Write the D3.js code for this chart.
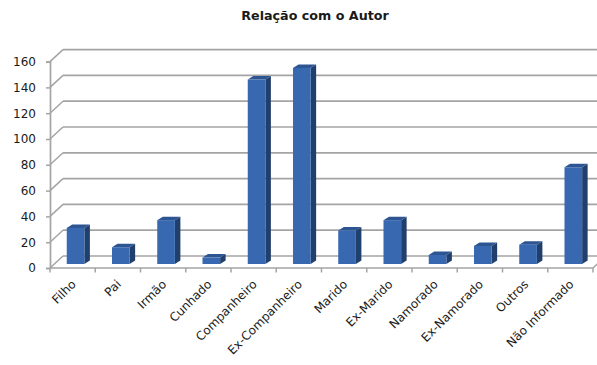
<!DOCTYPE html>
<html>
<head>
<meta charset="utf-8">
<script src="https://cdn.jsdelivr.net/npm/d3@7"></script>
<style>
  html, body { margin: 0; padding: 0; background: #fff; }
  svg { display: block; }
  text { font-family: "DejaVu Sans", sans-serif; fill: #1a1a1a; }
</style>
</head>
<body>
<svg id="chart" width="597" height="365"></svg>
<script>
// Relação com o Autor — counts per relationship
const categories = ["Filho", "Pai", "Irmão", "Cunhado", "Companheiro", "Ex-Companheiro",
  "Marido", "Ex-Marido", "Namorado", "Ex-Namorado", "Outros", "Não Informado"];
const values = [28, 13, 34, 5, 143, 152, 26, 34, 7, 14, 15, 75];
const yTicks = [0, 20, 40, 60, 80, 100, 120, 140, 160];
const chartTitle = "Relação com o Autor";

const svg = d3.select("#chart");
const W = 597, H = 365;

// Front plane of the 3D box
const left = 50, right = 593;
const yFront = d3.scaleLinear().domain([0, 160]).range([268, 61.6]);
// depth offsets: back wall and the plane the bars stand on
const depthDX = 13, depthDY = -12;
const barDY = -4;
const faceDX = 5.5, faceDY = -3.5;

const x = d3.scaleBand().domain(categories).range([left, right]).padding(0);

const gridColor = "#a4a4a4";
const g = svg.append("g");

// back wall gridlines + side wall diagonals
yTicks.forEach(v => {
  const yf = yFront(v);
  g.append("line")
    .attr("x1", left + depthDX).attr("x2", W + 20)
    .attr("y1", yf + depthDY).attr("y2", yf + depthDY)
    .attr("stroke", gridColor).attr("stroke-width", 1.7);
  g.append("line")
    .attr("x1", left).attr("y1", yf)
    .attr("x2", left + depthDX).attr("y2", yf + depthDY)
    .attr("stroke", gridColor).attr("stroke-width", 1.5);
});

// floor front edge and right side
g.append("line")
  .attr("x1", left).attr("x2", right)
  .attr("y1", yFront(0)).attr("y2", yFront(0))
  .attr("stroke", gridColor).attr("stroke-width", 1.7);
g.append("line")
  .attr("x1", right).attr("y1", yFront(0))
  .attr("x2", right + depthDX).attr("y2", yFront(0) + depthDY)
  .attr("stroke", gridColor).attr("stroke-width", 1.5);

// category tick marks on the floor edge
d3.range(categories.length + 1).forEach(i => {
  const xi = left + i * x.step();
  g.append("line")
    .attr("x1", xi).attr("x2", xi)
    .attr("y1", yFront(0)).attr("y2", yFront(0) + 4.5)
    .attr("stroke", gridColor).attr("stroke-width", 1.5);
});

// front value axis
const axis = d3.axisLeft(yFront).tickValues(yTicks).tickSize(4).tickPadding(10);
const ax = svg.append("g").attr("transform", `translate(${left},0)`).call(axis);
ax.select(".domain").attr("stroke", gridColor).attr("stroke-width", 1.7);
ax.selectAll(".tick line").attr("stroke", gridColor).attr("stroke-width", 1.5);
ax.selectAll(".tick text")
  .style("font-family", "'DejaVu Sans', sans-serif")
  .style("font-size", "12px").attr("fill", "#1a1a1a");

// bars
const barW = x.bandwidth() * 0.39;
const barOff = x.bandwidth() * 0.37;
const base = yFront(0) + barDY;
const bars = svg.append("g");
categories.forEach((c, i) => {
  const x0 = x(c) + barOff;
  const x1 = x0 + barW;
  const yt = yFront(values[i]) + barDY;
  // right side face
  bars.append("path")
    .attr("d", `M${x1},${yt}L${x1 + faceDX},${yt + faceDY}L${x1 + faceDX},${base + faceDY}L${x1},${base}Z`)
    .attr("fill", "#213f6c");
  // top face
  bars.append("path")
    .attr("d", `M${x0},${yt}L${x0 + faceDX},${yt + faceDY}L${x1 + faceDX},${yt + faceDY}L${x1},${yt}Z`)
    .attr("fill", "#2c5592");
  // front face
  bars.append("rect")
    .attr("x", x0).attr("y", yt)
    .attr("width", barW).attr("height", base - yt)
    .attr("fill", "#3868b0");
});

// category labels, rotated
svg.append("g").selectAll("text")
  .data(categories).join("text")
  .attr("transform", d => `translate(${x(d) + x.bandwidth() / 2 + 4},${yFront(0) + 17}) rotate(-45)`)
  .attr("text-anchor", "end")
  .style("font-size", "12px")
  .text(d => d);

// title
svg.append("text")
  .attr("x", 315).attr("y", 20)
  .attr("text-anchor", "middle")
  .style("font-size", "12.7px").style("font-weight", "bold")
  .text(chartTitle);
</script>
</body>
</html>
